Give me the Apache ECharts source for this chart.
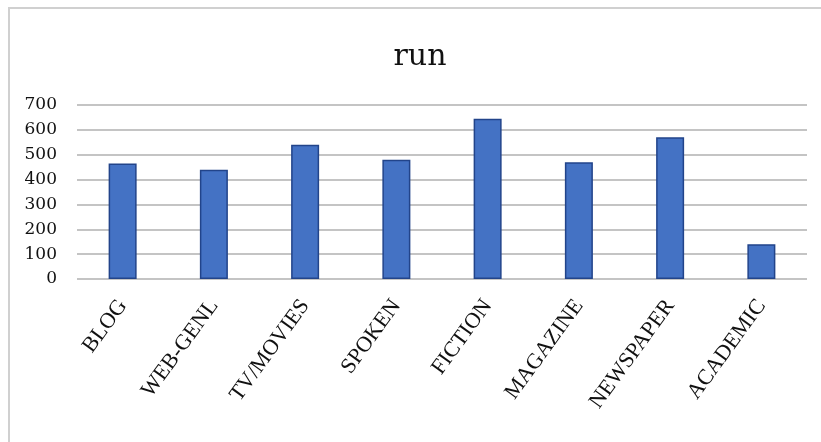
<!DOCTYPE html>
<html>
<head>
<meta charset="utf-8">
<title>run</title>
<script src="https://cdn.jsdelivr.net/npm/echarts@6/dist/echarts.min.js"></script>
<style>
  html, body { margin: 0; padding: 0; background: #fff; }
  #chart { width: 821px; height: 442px; }
</style>
</head>
<body>
<div id="chart"></div>
<script>
// Genre categories and the count for each
const categories = ['BLOG', 'WEB-GENL', 'TV/MOVIES', 'SPOKEN', 'FICTION', 'MAGAZINE', 'NEWSPAPER', 'ACADEMIC'];
const values = [465, 440, 540, 480, 645, 470, 570, 140];
const yTicks = [0, 100, 200, 300, 400, 500, 600, 700];

const chart = echarts.init(document.getElementById('chart'), null, { renderer: 'canvas' });

chart.setOption({
  backgroundColor: '#ffffff',
  animation: false,
  title: {
    text: 'run',
    left: 415,
    textAlign: 'center',
    top: 37,
    textStyle: { fontFamily: 'DejaVu Serif', fontSize: 30, fontWeight: 'normal', color: '#111' }
  },
  // outer frame of the chart area
  graphic: [{
    type: 'rect',
    shape: { x: 9, y: 8, width: 840, height: 460 },
    style: { fill: 'none', stroke: '#d0d0d0', lineWidth: 2 },
    silent: true
  }],
  grid: { left: 77, right: 14, top: 105, bottom: 163, containLabel: false },
  xAxis: {
    type: 'category',
    data: categories,
    axisLine: { show: false },
    axisTick: { show: false },
    axisLabel: {
      rotate: 54,
      margin: 23,
      interval: 0,
      fontFamily: '"Liberation Serif", serif',
      fontSize: 22,
      color: '#111'
    }
  },
  yAxis: {
    type: 'value',
    min: yTicks[0],
    max: yTicks[yTicks.length - 1],
    interval: 100,
    axisLine: { show: false },
    axisTick: { show: false },
    axisLabel: { margin: 20, fontFamily: 'DejaVu Serif', fontSize: 17, color: '#111' },
    splitLine: { lineStyle: { color: '#c4c4c4', width: 2 } }
  },
  series: [{
    type: 'bar',
    data: values,
    barWidth: 28,
    itemStyle: { color: '#4472C4', borderColor: '#22448a', borderWidth: 1.5 }
  }]
});
</script>
</body>
</html>
